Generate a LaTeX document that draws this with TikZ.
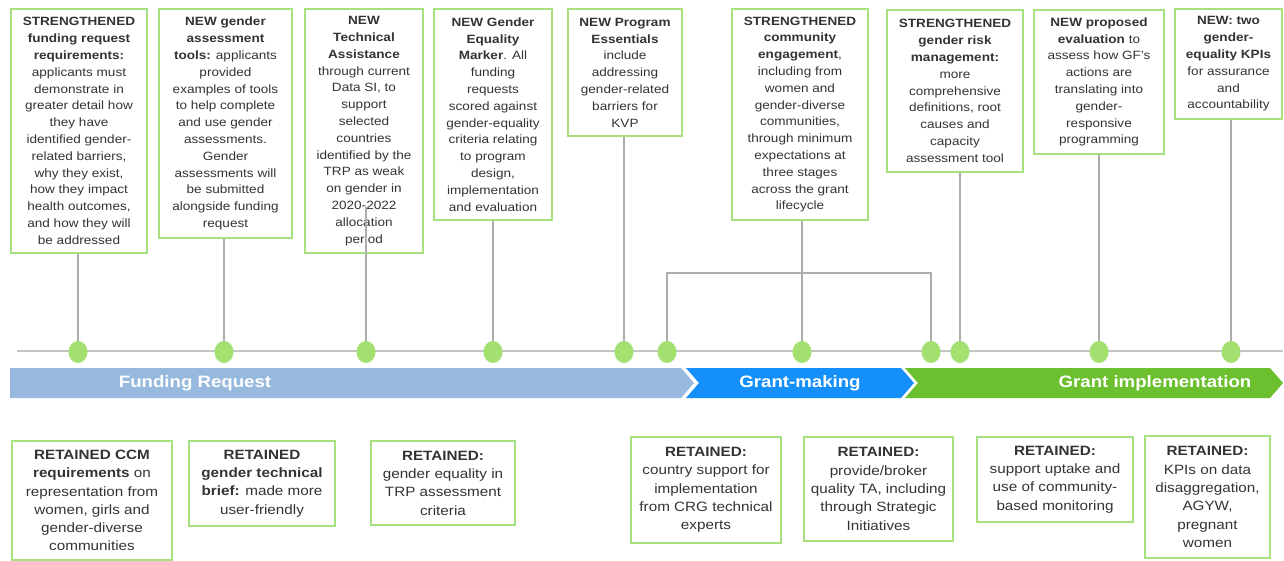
\documentclass[tikz,border=0pt]{standalone}
\usepackage{fontspec}
\setmainfont{Liberation Sans}[FakeStretch=1.13]
\usetikzlibrary{shapes.geometric}
\definecolor{boxgreen}{HTML}{A6E07F}
\definecolor{dotgreen}{HTML}{A3E070}
\definecolor{stemgray}{HTML}{ADADAD}
\definecolor{linegray}{HTML}{C4C4C4}
\definecolor{textgray}{HTML}{333333}
\definecolor{frblue}{HTML}{96B9DD}
\definecolor{gmblue}{HTML}{1590FA}
\definecolor{gigreen}{HTML}{6CBF2E}

\begin{document}
\begin{tikzpicture}[x=1pt, y=-1pt,
    topbox/.style={draw=boxgreen, line width=1.8pt, rectangle, align=center, inner sep=2pt,
      text=textgray, font=\fontsize{12}{16.8}\selectfont},
    lowbox/.style={topbox, font=\fontsize{13.5}{18.3}\selectfont},
    tdot/.style={ellipse, fill=dotgreen, minimum width=19pt, minimum height=22pt, inner sep=0pt},
    stemline/.style={draw=stemgray, line width=1.3pt},
    phase/.style={text=white, font=\bfseries\fontsize{16.5}{18}\selectfont}]
    \useasboundingbox (0,0) rectangle (1284,561);

    % phase band
    \fill[frblue] (10,368) -- (681,368) -- (694,383) -- (681,398) -- (10,398) -- cycle;
    \fill[gmblue] (686,368) -- (901,368) -- (914,383) -- (901,398) -- (686,398) -- (699,383) -- cycle;
    \fill[gigreen] (905,368) -- (1270,368) -- (1283,383) -- (1270,398) -- (905,398) -- (918,383) -- cycle;
    \node[phase] (fr) at (195,383) {Funding Request};
    \node[phase] (gm) at (800,383) {Grant-making};
    \node[phase] (gi) at (1155,383) {Grant implementation};

    % timeline
    \coordinate (tl0) at (17,351);
    \coordinate (tl1) at (1283,351);
    \draw[draw=linegray, line width=2pt] (tl0) -- (tl1);
    \foreach \x [count=\i] in {78,224,366,493,624,667,802,931,960,1099,1231}
      \node[tdot] (d\i) at (\x,352) {};

    % top boxes
    \node[topbox, minimum width=136, minimum height=244] (t1) at (79,131)
      {\textbf{STRENGTHENED}\\\textbf{funding request}\\\textbf{requirements:}\\applicants must\\demonstrate in\\greater detail how\\they have\\identified gender-\\related barriers,\\why they exist,\\how they impact\\health outcomes,\\and how they will\\be addressed};
    \node[topbox, minimum width=133, minimum height=229] (t2) at (225.5,123.5)
      {\textbf{NEW gender}\\\textbf{assessment}\\\textbf{tools:} applicants\\provided\\examples of tools\\to help complete\\and use gender\\assessments.\\Gender\\assessments will\\be submitted\\alongside funding\\request};
    \node[topbox, minimum width=118, minimum height=244] (t3) at (364,131)
      {\textbf{NEW}\\\textbf{Technical}\\\textbf{Assistance}\\through current\\Data SI, to\\support\\selected\\countries\\identified by the\\TRP as weak\\on gender in\\2020-2022\\allocation\\period};
    \node[topbox, minimum width=118, minimum height=211] (t4) at (493,114.5)
      {\textbf{NEW Gender}\\\textbf{Equality}\\\textbf{Marker}. All\\funding\\requests\\scored against\\gender-equality\\criteria relating\\to program\\design,\\implementation\\and evaluation};
    \node[topbox, minimum width=114, minimum height=127] (t5) at (625,72.5)
      {\textbf{NEW Program}\\\textbf{Essentials}\\include\\addressing\\gender-related\\barriers for\\KVP};
    \node[topbox, minimum width=136, minimum height=211] (t6) at (800,114.5)
      {\textbf{STRENGTHENED}\\\textbf{community}\\\textbf{engagement},\\including from\\women and\\gender-diverse\\communities,\\through minimum\\expectations at\\three stages\\across the grant\\lifecycle};
    \node[topbox, minimum width=136, minimum height=162] (t7) at (955,91)
      {\textbf{STRENGTHENED}\\\textbf{gender risk}\\\textbf{management:}\\more\\comprehensive\\definitions, root\\causes and\\capacity\\assessment tool};
    \node[topbox, minimum width=130, minimum height=144] (t8) at (1099,82)
      {\textbf{NEW proposed}\\\textbf{evaluation} to\\assess how GF’s\\actions are\\translating into\\gender-\\responsive\\programming};
    \node[topbox, minimum width=107, minimum height=110] (t9) at (1228.5,64)
      {\textbf{NEW: two}\\\textbf{gender-}\\\textbf{equality KPIs}\\for assurance\\and\\accountability};

    % bottom boxes
    \node[lowbox, minimum width=160, minimum height=119] (b1) at (92,500.5)
      {\textbf{RETAINED CCM}\\\textbf{requirements} on\\representation from\\women, girls and\\gender-diverse\\communities};
    \node[lowbox, minimum width=146, minimum height=85] (b2) at (262,483.5)
      {\textbf{RETAINED}\\\textbf{gender technical}\\\textbf{brief:} made more\\user-friendly};
    \node[lowbox, minimum width=144, minimum height=84] (b3) at (443,483)
      {\textbf{RETAINED:}\\gender equality in\\TRP assessment\\criteria};
    \node[lowbox, minimum width=150, minimum height=106] (b4) at (706,490)
      {\textbf{RETAINED:}\\country support for\\implementation\\from CRG technical\\experts};
    \node[lowbox, minimum width=149, minimum height=104] (b5) at (878.5,489)
      {\textbf{RETAINED:}\\provide/broker\\quality TA, including\\through Strategic\\Initiatives};
    \node[lowbox, minimum width=156, minimum height=85] (b6) at (1055,479.5)
      {\textbf{RETAINED:}\\support uptake and\\use of community-\\based monitoring};
    \node[lowbox, minimum width=125, minimum height=122] (b7) at (1207.5,497)
      {\textbf{RETAINED:}\\KPIs on data\\disaggregation,\\AGYW,\\pregnant\\women};

    % stems
    \coordinate (c3) at (366,207);
    \coordinate (brk) at (802,273);
    \draw[stemline] (d1) -- (d1 |- t1.south);
    \draw[stemline] (d2) -- (d2 |- t2.south);
    \draw[stemline] (d3) -- (c3);
    \draw[stemline] (d4) -- (d4 |- t4.south);
    \draw[stemline] (d5) -- (d5 |- t5.south);
    \draw[stemline] (d6) |- (brk) -| (d8);
    \draw[stemline] (d7) -- (d7 |- t6.south);
    \draw[stemline] (d9) -- (d9 |- t7.south);
    \draw[stemline] (d10) -- (d10 |- t8.south);
    \draw[stemline] (d11) -- (d11 |- t9.south);
\end{tikzpicture}
\end{document}
